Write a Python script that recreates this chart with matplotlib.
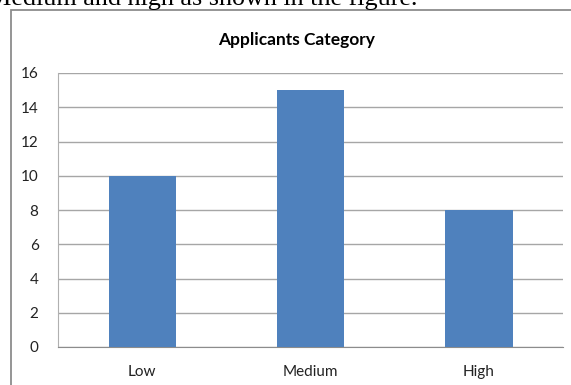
import matplotlib.pyplot as plt
from matplotlib.patches import Rectangle

# data
categories = ["Low", "Medium", "High"]
counts = [10, 15, 8]
yticks = [0, 2, 4, 6, 8, 10, 12, 14, 16]

plt.rcParams['font.family'] = ['Lato', 'DejaVu Sans']

fig = plt.figure(figsize=(5.71, 3.85), dpi=100)

# cut-off line of document text above the chart
fig.text(417 / 571, 1 - 5 / 385, "Medium and high as shown in the figure.", family='Liberation Serif',
         fontsize=18.8, va='baseline', ha='right', color='black')

# chart frame
fig.patches.append(Rectangle((11 / 571, -0.05), 1.0, 1 - 10 / 385 + 0.05, transform=fig.transFigure,
                             fill=False, edgecolor='#8c8c8c', linewidth=1.3))

ax = fig.add_axes([58 / 571, 38 / 385, 505 / 571, 274 / 385])
x = range(len(categories))
ax.bar(x, counts, width=0.4, color='#4f81bd', zorder=3)

ax.set_xlim(-0.5, 2.5)
ax.set_ylim(0, 16)
ax.set_yticks(yticks)
ax.set_xticks(list(x))
ax.set_xticklabels(categories)
ax.yaxis.grid(True, color='#a6a6a6', linewidth=1, zorder=0)
ax.tick_params(length=0, labelsize=11, colors='#222222')
ax.tick_params(axis='x', pad=13)
ax.tick_params(axis='y', pad=14)

for side in ['top', 'right']:
    ax.spines[side].set_visible(False)
ax.spines['left'].set_color('#b0b0b0')
ax.spines['bottom'].set_color('#8c8c8c')

fig.text(297 / 571, 1 - 40 / 385, "Applicants Category", ha='center', va='center',
         fontsize=12.5, fontweight='bold')

fig.savefig("out.png", dpi=100)
